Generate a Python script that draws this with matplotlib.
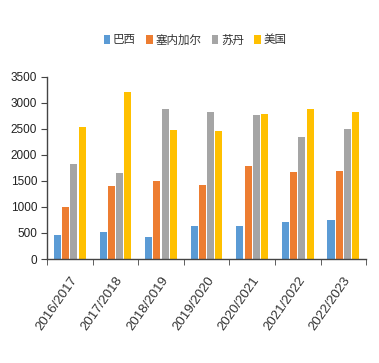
import matplotlib
matplotlib.use("Agg")
import matplotlib.pyplot as plt
import numpy as np

plt.rcParams['font.family'] = ['Liberation Sans', 'Noto Sans CJK SC', 'DejaVu Sans']

categories = ["2016/2017", "2017/2018", "2018/2019", "2019/2020", "2020/2021", "2021/2022", "2022/2023"]
series_names = ["巴西", "塞内加尔", "苏丹", "美国"]
brazil = [460, 510, 430, 630, 640, 710, 750]
senegal = [1000, 1400, 1500, 1420, 1790, 1670, 1690]
sudan = [1820, 1650, 2880, 2830, 2770, 2350, 2490]
usa = [2530, 3220, 2480, 2460, 2780, 2890, 2830]
yticks = [0, 500, 1000, 1500, 2000, 2500, 3000, 3500]

colors = ["#5B9BD5", "#ED7D31", "#A5A5A5", "#FFC000"]
data = [brazil, senegal, sudan, usa]

fig = plt.figure(figsize=(3.79, 3.63), dpi=100)
ax = fig.add_axes([0.124, 0.2865, 0.842, 0.5015])

x = np.arange(len(categories))
w = 0.155
pitch = 0.18
for i, (vals, c, name) in enumerate(zip(data, colors, series_names)):
    ax.bar(x + (i - 1.5) * pitch, vals, width=w, color=c, label=name, zorder=2)

ax.set_xlim(-0.5, len(categories) - 0.5)
ax.set_ylim(0, 3500)
ax.set_yticks(yticks)
ax.set_yticklabels([str(v) for v in yticks], fontsize=8.5, color="#222222")
ax.set_xticks(x)
ax.set_xticklabels(categories, rotation=55, ha='right', rotation_mode='anchor',
                   fontsize=9.5, color="#333333")
ax.tick_params(axis='x', length=0, pad=11)
ax.set_xticks(np.arange(-0.5, len(categories)), minor=True)
ax.tick_params(axis='x', which='minor', length=4, color='#444444', direction='out')
ax.tick_params(axis='y', length=4, color='#444444', direction='out', pad=3)

for s in ['top', 'right']:
    ax.spines[s].set_visible(False)
for s in ['left', 'bottom']:
    ax.spines[s].set_color('#444444')
    ax.spines[s].set_linewidth(1.0)

leg = fig.legend(loc='center', bbox_to_anchor=(0.515, 0.89), ncol=4, frameon=False,
                 handlelength=0.55, handleheight=0.75, handletextpad=0.25,
                 columnspacing=0.9, prop={'family': ['Noto Sans CJK SC'], 'size': 8.3})
for t in leg.get_texts():
    t.set_color('#333333')

fig.savefig("out.png", dpi=100)
